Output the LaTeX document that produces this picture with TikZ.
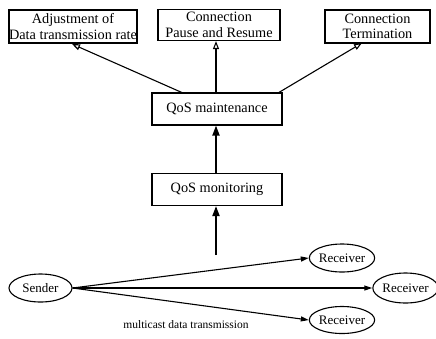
\documentclass[tikz,border=0pt]{standalone}
\usepackage{fontspec}
\setmainfont{Liberation Serif}
\usetikzlibrary{arrows.meta,shapes.geometric}
\begin{document}
\begin{tikzpicture}[x=1pt,y=-1pt,
  every node/.style={font=\fontsize{13}{15}\selectfont},
  box/.style={draw,line width=1.1pt,inner sep=0pt,align=center,font=\fontsize{14.3}{15.5}\selectfont},
  oval/.style={draw,ellipse,line width=1.1pt,inner sep=0pt},
  openarr/.style={line width=1.1pt,-{Triangle[open,length=8pt,width=6pt]}},
  heavyarr/.style={line width=1.8pt,-{Triangle[length=10pt,width=7pt]}},
  castarr/.style={line width=1.1pt,-{Triangle[length=8pt,width=5pt]}}]
\useasboundingbox (0,0) rectangle (436,338);
\node[box,minimum width=128pt,minimum height=33pt] (adj) at (73,26.5) {Adjustment of\\Data transmission rate};
\node[box,minimum width=122pt,minimum height=31pt] (pause) at (219,25) {Connection\\Pause and Resume};
\node[box,minimum width=105pt,minimum height=33pt] (term) at (377.5,26.5) {Connection\\Termination};
\node[box,minimum width=130pt,minimum height=32pt] (maint) at (217,109) {QoS maintenance};
\node[box,minimum width=130pt,minimum height=32pt] (mon) at (217,189.5) {QoS monitoring};
\node[oval,minimum width=63pt,minimum height=28pt] (snd) at (40.5,288) {Sender};
\node[oval,minimum width=62pt,minimum height=28pt] (r1) at (342,258) {Receiver};
\node[oval,minimum width=61pt,minimum height=30pt] (r2) at (405.5,288) {Receiver};
\node[oval,minimum width=62pt,minimum height=27pt] (r3) at (342,320) {Receiver};
\node[font=\fontsize{11.5}{13}\selectfont] (lbl) at (186,325) {multicast data transmission};
\coordinate (start) at (216,255);
\coordinate (m1) at (183,93);
\coordinate (m3) at (278,93);
\coordinate (a1) at (72,44);
\coordinate (a3) at (362,43);
\draw[openarr] (m1) -- (a1);
\draw[openarr] (216,93) -- (pause.south -| 216,0);
\draw[openarr] (m3) -- (a3);
\draw[heavyarr] (mon.north -| 216,0) -- (maint.south -| 216,0);
\draw[heavyarr] (start) -- (mon.south -| start);
\draw[castarr] (snd.east) -- (r1.west);
\draw[castarr] (snd.east) -- (r2.west);
\draw[castarr] (snd.east) -- (r3.west);
\end{tikzpicture}
\end{document}
